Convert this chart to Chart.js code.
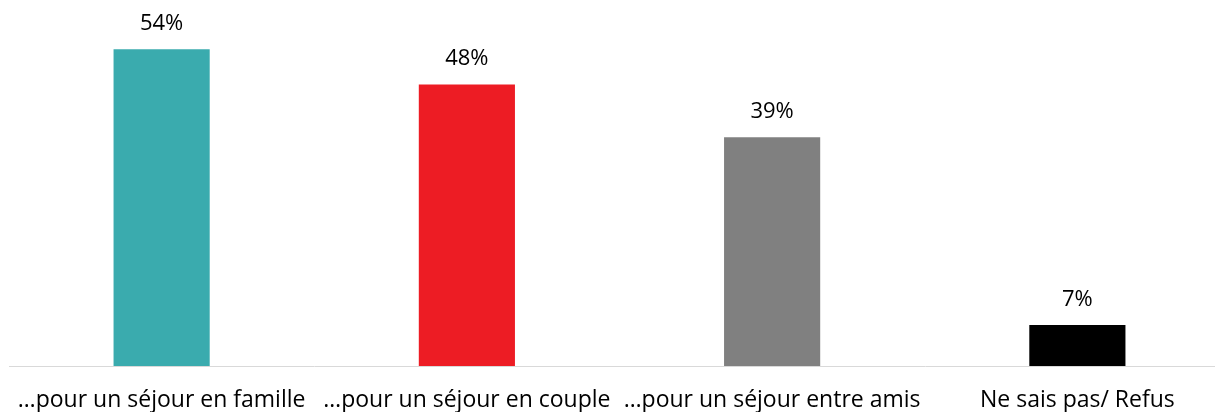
<!DOCTYPE html>
<html>
<head>
<meta charset="utf-8">
<script src="https://cdn.jsdelivr.net/npm/chart.js@4.4.1/dist/chart.umd.min.js"></script>
<style>
  html, body { margin: 0; padding: 0; background: #fff; overflow: hidden; }
  #wrap { width: 1240px; height: 412px; }
</style>
</head>
<body>
<div id="wrap"><canvas id="myChart"></canvas></div>
<script>
var labels = [
    "…pour un séjour en famille",
    "…pour un séjour en couple",
    "…pour un séjour entre amis",
    "Ne sais pas/ Refus"
];
var values = [54, 48, 39, 7];
var colors = ["#3aabae", "#ed1c24", "#808080", "#000000"];

var fontFamily = "'Open Sans', sans-serif";

// write the percentages above each bar
var valueLabels = {
  id: 'valueLabels',
  afterDatasetsDraw: function(chart) {
    var ctx = chart.ctx;
    var meta = chart.getDatasetMeta(0);
    ctx.save();
    ctx.font = "22px " + fontFamily;
    ctx.fillStyle = "#000";
    ctx.textAlign = "center";
    ctx.textBaseline = "alphabetic";
    meta.data.forEach(function(bar, i) {
      ctx.fillText(values[i] + "%", bar.x, bar.y - 19);
    });
    ctx.restore();
  }
};

var ctx = document.getElementById("myChart");
var myChart = new Chart(ctx, {
    type: 'bar',
    data: {
        labels: labels,
        datasets: [{
            data: values,
            backgroundColor: colors,
            barPercentage: 0.315,
            categoryPercentage: 1
        }]
    },
    options: {
        responsive: true,
        maintainAspectRatio: false,
        animation: false,
        layout: { padding: { top: 14, left: 9, right: 10, bottom: 0 } },
        plugins: {
            legend: { display: false },
            tooltip: { enabled: false }
        },
        scales: {
            x: {
                afterFit: function(scale) {
                    scale.height = 46;
                    scale.paddingLeft = 0;
                    scale.paddingRight = 0;
                },
                grid: { display: false, drawTicks: false },
                border: { color: "#d9d9d9", width: 1 },
                ticks: {
                    color: "#000",
                    font: { family: fontFamily, size: 23 },
                    padding: 21,
                    maxRotation: 0,
                    autoSkip: false
                }
            },
            y: {
                display: false,
                min: 0,
                max: 60
            }
        }
    },
    plugins: [valueLabels]
});
</script>
</body>
</html>
